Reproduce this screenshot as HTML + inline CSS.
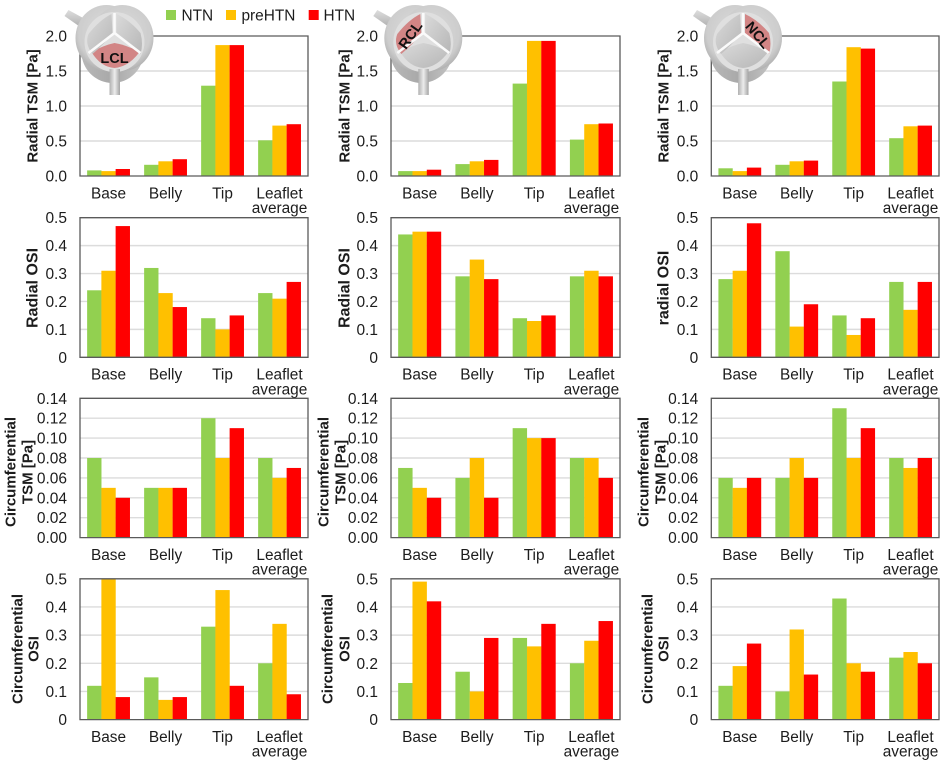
<!DOCTYPE html>
<html lang="en">
<head>
<meta charset="utf-8">
<title>Valve leaflet shear metrics</title>
<style>
html,body{margin:0;padding:0;background:#fff;width:944px;height:763px;overflow:hidden}
svg{display:block;filter:blur(.35px)}
text{font-family:"Liberation Sans",sans-serif;fill:#1c1c1c}
.tick{font-size:15.5px}
.cat{font-size:15.4px}
.title{font-size:15px;font-weight:bold}
.title-large{font-size:16px;font-weight:bold}
.leg{font-size:15.4px}
.icon-text{font-size:14.5px;font-weight:bold;fill:#111}
</style>
</head>
<body>
<svg id="chart" width="944" height="763" viewBox="0 0 944 763" xmlns="http://www.w3.org/2000/svg">
<defs>
<radialGradient id="bodyGrad" cx="50%" cy="42%" r="58%"><stop offset="0" stop-color="#dcdcdc"/><stop offset=".78" stop-color="#cdcdcd"/><stop offset="1" stop-color="#b0b0b0"/></radialGradient>
<linearGradient id="lowerGrad" x1="0" x2="1" y1="0" y2="0"><stop offset="0" stop-color="#b8b8b8"/><stop offset=".5" stop-color="#a8a8a8"/><stop offset="1" stop-color="#c4c4c4"/></linearGradient>
<linearGradient id="pipeGrad" x1="0" x2="1" y1="0" y2="0"><stop offset="0" stop-color="#b0b0b0"/><stop offset=".5" stop-color="#ececec"/><stop offset="1" stop-color="#a4a4a4"/></linearGradient>
<linearGradient id="pipeGradTilt" x1="0" x2="0" y1="0" y2="1"><stop offset="0" stop-color="#dedede"/><stop offset="1" stop-color="#a8a8a8"/></linearGradient>
<linearGradient id="leafGrad" x1="0" x2="1" y1="0" y2="1"><stop offset="0" stop-color="#dadada"/><stop offset="1" stop-color="#b6b6b6"/></linearGradient>
</defs>
<g id="plots"></g>
<g id="icons"></g>
<g>
<g><rect x="166" y="10" width="10" height="10" fill="#92D050"/><text class="leg" x="181.5" y="20.5">NTN</text></g>
<g><rect x="226" y="10" width="10" height="10" fill="#FFC000"/><text class="leg" x="241.5" y="20.5">preHTN</text></g>
<g><rect x="308.7" y="10" width="10" height="10" fill="#FF0000"/><text class="leg" x="323.5" y="20.5">HTN</text></g>
</g>
</svg>
<script>
// ---- data: each panel lists [NTN, preHTN, HTN], values per category ----
const categories = ['Base', 'Belly', 'Tip', 'Leaflet average'];
const seriesNames = ['NTN', 'preHTN', 'HTN'];

const radialTsmTicks = ['0.0', '0.5', '1.0', '1.5', '2.0'];
const radialOsiTicks = ['0', '0.1', '0.2', '0.3', '0.4', '0.5'];
const circTsmTicks = ['0.00', '0.02', '0.04', '0.06', '0.08', '0.10', '0.12', '0.14'];
const circOsiTicks = ['0', '0.1', '0.2', '0.3', '0.4', '0.5'];

const radialTsmLcl = [[0.08, 0.16, 1.29, 0.51], [0.07, 0.21, 1.87, 0.72], [0.10, 0.24, 1.87, 0.74]];
const radialTsmRcl = [[0.07, 0.17, 1.32, 0.52], [0.07, 0.21, 1.93, 0.74], [0.09, 0.23, 1.93, 0.75]];
const radialTsmNcl = [[0.11, 0.16, 1.35, 0.54], [0.07, 0.21, 1.84, 0.71], [0.12, 0.22, 1.82, 0.72]];

const radialOsiLcl = [[0.24, 0.32, 0.14, 0.23], [0.31, 0.23, 0.10, 0.21], [0.47, 0.18, 0.15, 0.27]];
const radialOsiRcl = [[0.44, 0.29, 0.14, 0.29], [0.45, 0.35, 0.13, 0.31], [0.45, 0.28, 0.15, 0.29]];
const radialOsiNcl = [[0.28, 0.38, 0.15, 0.27], [0.31, 0.11, 0.08, 0.17], [0.48, 0.19, 0.14, 0.27]];

const circTsmLcl = [[0.08, 0.05, 0.12, 0.08], [0.05, 0.05, 0.08, 0.06], [0.04, 0.05, 0.11, 0.07]];
const circTsmRcl = [[0.07, 0.06, 0.11, 0.08], [0.05, 0.08, 0.10, 0.08], [0.04, 0.04, 0.10, 0.06]];
const circTsmNcl = [[0.06, 0.06, 0.13, 0.08], [0.05, 0.08, 0.08, 0.07], [0.06, 0.06, 0.11, 0.08]];

const circOsiLcl = [[0.12, 0.15, 0.33, 0.20], [0.50, 0.07, 0.46, 0.34], [0.08, 0.08, 0.12, 0.09]];
const circOsiRcl = [[0.13, 0.17, 0.29, 0.20], [0.49, 0.10, 0.26, 0.28], [0.42, 0.29, 0.34, 0.35]];
const circOsiNcl = [[0.12, 0.10, 0.43, 0.22], [0.19, 0.32, 0.20, 0.24], [0.27, 0.16, 0.17, 0.20]];

const SVGNS = 'http://www.w3.org/2000/svg';
const seriesColors = ['#92D050', '#FFC000', '#FF0000'];
const plotsRoot = document.getElementById('plots');

function make(tag, attrs, parent, txt) {
  const el = document.createElementNS(SVGNS, tag);
  for (const k in attrs) el.setAttribute(k, attrs[k]);
  if (txt !== undefined) el.textContent = txt;
  parent.appendChild(el);
  return el;
}

function drawPanel(p) {
  const g = make('g', {}, plotsRoot);
  
  
  const w = p.right - p.left;
  const maxV = parseFloat(p.ticks[p.ticks.length - 1]);
  const yScale = v => p.bottom - (v / maxV) * (p.bottom - p.top);
  const groupW = w / categories.length;
  const barW = groupW / 4;
  const xScale = (c, s) => p.left + c * groupW + groupW * 0.125 + s * barW;

  p.ticks.forEach(t => {
    const y = yScale(parseFloat(t));
    if (parseFloat(t) > 0 && parseFloat(t) < maxV) {
      const gl = make('line', {x1: p.left, x2: p.right, y1: y, y2: y, stroke: '#dcdcdc', 'stroke-width': 1.4}, g);
      
      
    }
    const lab = make('text', {class: 'tick', x: p.left - 13, y: y + 5.5, 'text-anchor': 'end'}, g, t);
    
    
  });

  p.values.forEach((vals, s) => {
    vals.forEach((v, c) => {
      const y = yScale(v);
      const r = make('rect', {x: xScale(c, s), y: y, width: barW + 0.1, height: p.bottom - y, fill: seriesColors[s]}, g);
      
      
    });
  });

  const frame = make('path', {d: 'M' + p.left + ',' + p.top + 'H' + p.right + 'V' + p.bottom + 'H' + p.left + 'Z', fill: 'none', stroke: '#5a5a5a', 'stroke-width': 1.3}, g);
  
  

  categories.forEach((cat, c) => {
    const cx = p.left + (c + 0.5) * groupW;
    const parts = cat.indexOf(' ') > 0 ? cat.split(' ') : [cat];
    parts.forEach((line, i) => {
      const t = make('text', {class: 'cat', x: cx, y: p.bottom + 22.3 + i * 14.7, 'text-anchor': 'middle'}, g, line);
      
      
    });
  });

  p.title.forEach((line, i) => {
    const tx = p.titleX[i] + 5.4;
    const t = make('text', {class: p.r === 1 ? 'title-large' : 'title', x: tx, y: p.titleY, 'text-anchor': 'middle', transform: 'rotate(-90 ' + tx + ' ' + p.titleY + ')'}, g, line);
    
    
  });
}

const colLeft = [80, 391, 711.3];
const colRight = [308, 620, 939];
const rowGeom = [[36, 176], [217.7, 357.3], [398.3, 537.6], [578.8, 719.6]];

const panels = [
  {name: 'radial-tsm-lcl', r: 0, c: 0, ticks: radialTsmTicks, values: radialTsmLcl, title: ['Radial TSM [Pa]'], titleX: [32], titleY: 106},
  {name: 'radial-tsm-rcl', r: 0, c: 1, ticks: radialTsmTicks, values: radialTsmRcl, title: ['Radial TSM [Pa]'], titleX: [344], titleY: 106},
  {name: 'radial-tsm-ncl', r: 0, c: 2, ticks: radialTsmTicks, values: radialTsmNcl, title: ['Radial TSM [Pa]'], titleX: [663], titleY: 106},
  {name: 'radial-osi-lcl', r: 1, c: 0, ticks: radialOsiTicks, values: radialOsiLcl, title: ['Radial OSI'], titleX: [32], titleY: 288},
  {name: 'radial-osi-rcl', r: 1, c: 1, ticks: radialOsiTicks, values: radialOsiRcl, title: ['Radial OSI'], titleX: [344], titleY: 288},
  {name: 'radial-osi-ncl', r: 1, c: 2, ticks: radialOsiTicks, values: radialOsiNcl, title: ['radial OSI'], titleX: [663], titleY: 288},
  {name: 'circumferential-tsm-lcl', r: 2, c: 0, ticks: circTsmTicks, values: circTsmLcl, title: ['Circumferential', 'TSM [Pa]'], titleX: [10, 27], titleY: 472},
  {name: 'circumferential-tsm-rcl', r: 2, c: 1, ticks: circTsmTicks, values: circTsmRcl, title: ['Circumferential', 'TSM [Pa]'], titleX: [323, 340], titleY: 472},
  {name: 'circumferential-tsm-ncl', r: 2, c: 2, ticks: circTsmTicks, values: circTsmNcl, title: ['Circumferential', 'TSM [Pa]'], titleX: [643, 660], titleY: 472},
  {name: 'circumferential-osi-lcl', r: 3, c: 0, ticks: circOsiTicks, values: circOsiLcl, title: ['Circumferential', 'OSI'], titleX: [17, 33], titleY: 649},
  {name: 'circumferential-osi-rcl', r: 3, c: 1, ticks: circOsiTicks, values: circOsiRcl, title: ['Circumferential', 'OSI'], titleX: [327, 344], titleY: 649},
  {name: 'circumferential-osi-ncl', r: 3, c: 2, ticks: circOsiTicks, values: circOsiNcl, title: ['Circumferential', 'OSI'], titleX: [647, 663], titleY: 649}
];

panels.forEach(p => {
  p.left = colLeft[p.c];
  p.right = colRight[p.c];
  p.top = rowGeom[p.r][0];
  p.bottom = rowGeom[p.r][1];
  drawPanel(p);
});

// ---- valve icons ----
const iconsRoot = document.getElementById('icons');
const leafletPaths = {
  LCL: 'M-23,10 Q-10,3 0,1 Q12,3 25,10 Q14,25 0,26 Q-14,25 -23,10Z',
  RCL: 'M-26,-8 Q-15,-22 -3,-28 L-2,-9 Q-10,2 -22,12 Q-30,2 -26,-8Z',
  NCL: 'M2,-28 Q15,-22 26,-9 Q29,2 26,12 Q12,2 2,-9Z'
};
const valveIcons = [
  {label: 'LCL', cx: 114.5, tx: 0, ty: 21, rot: 0},
  {label: 'RCL', cx: 423.3, tx: -13, ty: -2, rot: -55},
  {label: 'NCL', cx: 743, tx: 15, ty: -2, rot: 50}
];
valveIcons.forEach(ic => {
  const g = make('g', {transform: 'translate(' + ic.cx + ',42)'}, iconsRoot);
  
  
  make('path', {d: 'M-50,-26 L-46,-32 L-24,-20 L-30,-12Z', fill: 'url(#pipeGradTilt)'}, g);
  make('circle', {cx: -2, cy: 10, r: 31, fill: 'url(#lowerGrad)'}, g);
  make('ellipse', {cx: -8, cy: -4, rx: 31, ry: 33, fill: 'url(#bodyGrad)'}, g);
  make('ellipse', {cx: 8, cy: -4, rx: 31, ry: 33, fill: 'url(#bodyGrad)'}, g);
  make('circle', {cx: 0, cy: 0, r: 30, fill: '#dfdfdf'}, g);
  make('rect', {x: -5, y: 27, width: 10.5, height: 26, fill: 'url(#pipeGrad)'}, g);
  Object.keys(leafletPaths).forEach(k => {
    const lf = make('path', {d: leafletPaths[k], fill: k === ic.label ? '#d28585' : 'url(#leafGrad)'}, g);
    
    
  });
  make('path', {d: 'M0,-29 V-9 M0,-9 L-26,11 M0,-9 L26,11', fill: 'none', stroke: '#fafafa', 'stroke-width': 2.6}, g);
  make('text', {class: 'icon-text', x: ic.tx, y: ic.ty, 'text-anchor': 'middle', transform: 'rotate(' + ic.rot + ' ' + ic.tx + ' ' + (ic.ty - 5) + ')'}, g, ic.label);
});
</script>
</body>
</html>
